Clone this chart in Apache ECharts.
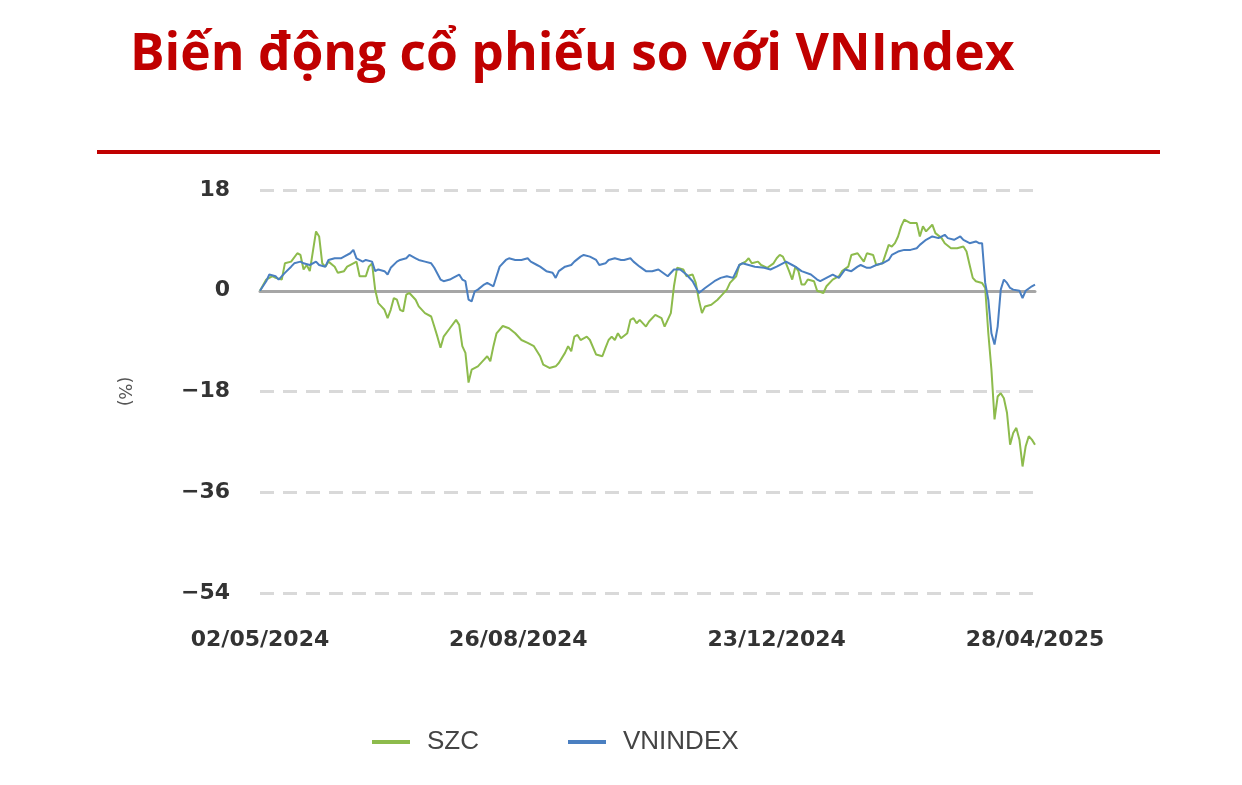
<!DOCTYPE html>
<html>
<head>
<meta charset="utf-8">
<script src="https://cdn.jsdelivr.net/npm/echarts@6/dist/echarts.min.js"></script>
<style>
html,body{margin:0;padding:0;background:#fff;}
#chart{width:1242px;height:785px;}
</style>
</head>
<body>
<div id="chart"></div>
<script>
// x tick labels (trading-day index 0, 83, 166, 249)
var xLabels = ['02/05/2024', '26/08/2024', '23/12/2024', '28/04/2025'];
var seriesNames = ['SZC', 'VNINDEX'];

// [trading-day index, % change]
var szcPoints = [[0,0],[2,2.0],[4,2.6],[5,2.3],[7,2.0],[8,4.9],[10,5.2],[12,6.7],[13,6.4],[14,3.8],[15,4.6],[16,3.5],[18,10.6],[19,9.7],[20,4.9],[21,4.3],[22,5.2],[24,4.3],[25,3.2],[27,3.5],[28,4.3],[30,4.9],[31,5.2],[32,2.6],[34,2.6],[35,4.3],[36,4.9],[37,0.2],[38,-2.2],[39,-2.8],[40,-3.4],[41,-4.9],[42,-3.4],[43,-1.3],[44,-1.6],[45,-3.4],[46,-3.7],[47,-0.7],[48,-0.4],[50,-1.6],[51,-2.8],[53,-4.0],[55,-4.6],[56,-6.4],[57,-8.2],[58,-10.2],[59,-8.2],[61,-6.7],[63,-5.2],[64,-6.1],[65,-9.9],[66,-11.1],[67,-16.4],[68,-14.1],[70,-13.5],[72,-12.3],[73,-11.7],[74,-12.6],[75,-9.9],[76,-7.6],[78,-6.3],[80,-6.7],[82,-7.6],[84,-8.8],[86,-9.3],[88,-9.9],[90,-11.7],[91,-13.2],[93,-13.8],[95,-13.5],[96,-12.9],[98,-11.1],[99,-9.9],[100,-10.8],[101,-8.2],[102,-7.9],[103,-8.8],[105,-8.2],[106,-8.8],[108,-11.4],[110,-11.7],[111,-10.2],[112,-8.8],[113,-8.2],[114,-8.8],[115,-7.6],[116,-8.5],[118,-7.6],[119,-5.2],[120,-4.9],[121,-5.8],[122,-5.2],[124,-6.4],[125,-5.5],[127,-4.3],[129,-4.9],[130,-6.4],[132,-4.0],[133,0.8],[134,4.1],[136,3.8],[137,2.6],[139,2.9],[140,1.4],[141,-1.6],[142,-4.0],[143,-2.8],[145,-2.5],[147,-1.6],[148,-1.0],[150,0.2],[151,1.4],[153,2.6],[154,4.6],[156,5.2],[157,5.8],[158,4.9],[160,5.2],[161,4.6],[163,4.1],[165,4.9],[166,5.8],[167,6.4],[168,6.1],[169,4.9],[170,3.5],[171,2.0],[172,4.3],[173,3.5],[174,1.1],[175,1.1],[176,2.0],[178,1.7],[179,0],[181,-0.4],[182,0.8],[184,2.0],[186,2.6],[187,3.5],[189,4.3],[190,6.4],[192,6.7],[194,5.2],[195,6.7],[197,6.4],[198,4.6],[200,4.9],[202,8.2],[203,7.9],[204,8.5],[205,9.7],[206,11.5],[207,12.7],[209,12.1],[211,12.1],[212,9.7],[213,11.5],[214,10.6],[216,11.8],[217,10.3],[219,9.4],[220,8.5],[222,7.6],[224,7.6],[226,7.9],[227,7.0],[228,4.6],[229,2.3],[230,1.7],[232,1.4],[233,0.5],[234,-7.6],[235,-14.1],[236,-23.0],[237,-18.9],[238,-18.3],[239,-19.2],[240,-21.8],[241,-27.5],[242,-25.4],[243,-24.5],[244,-26.6],[245,-31.4],[246,-27.8],[247,-26.0],[248,-26.6],[249,-27.5]];

var vnindexPoints = [[0,0],[2,1.7],[3,2.9],[5,2.6],[6,2.0],[8,3.2],[10,4.3],[11,4.9],[13,5.2],[14,4.9],[16,4.6],[18,5.2],[19,4.6],[21,4.3],[22,5.5],[24,5.8],[26,5.8],[27,6.1],[29,6.7],[30,7.3],[31,5.8],[33,5.2],[34,5.5],[36,5.2],[37,3.5],[38,3.8],[40,3.5],[41,2.9],[42,4.1],[44,5.2],[45,5.5],[47,5.8],[48,6.4],[50,5.8],[51,5.5],[53,5.2],[55,4.9],[56,4.1],[58,2.0],[59,1.7],[61,2.0],[62,2.3],[64,2.9],[65,2.0],[66,1.7],[67,-1.6],[68,-1.9],[69,-0.1],[70,0.2],[72,1.1],[73,1.4],[75,0.8],[76,2.6],[77,4.3],[79,5.5],[80,5.8],[82,5.5],[84,5.5],[86,5.8],[87,5.2],[89,4.6],[90,4.3],[92,3.5],[94,3.2],[95,2.3],[96,3.5],[98,4.3],[100,4.6],[101,5.2],[103,6.1],[104,6.4],[106,6.1],[108,5.5],[109,4.6],[111,4.9],[112,5.5],[114,5.8],[116,5.5],[117,5.5],[119,5.8],[120,5.2],[122,4.3],[124,3.5],[126,3.5],[128,3.8],[131,2.6],[133,3.8],[135,3.8],[137,2.9],[139,1.7],[141,-0.4],[143,0.5],[146,1.7],[148,2.3],[150,2.6],[152,2.3],[154,4.6],[155,4.9],[157,4.6],[159,4.3],[162,4.1],[164,3.8],[166,4.3],[168,4.9],[169,5.2],[171,4.6],[172,4.3],[174,3.5],[177,2.9],[179,2.0],[180,1.7],[182,2.3],[184,2.9],[186,2.3],[188,3.8],[190,3.5],[192,4.3],[193,4.6],[195,4.1],[196,4.1],[198,4.6],[200,4.9],[202,5.5],[203,6.4],[205,7.0],[207,7.3],[209,7.3],[211,7.6],[212,8.2],[214,9.1],[216,9.7],[218,9.4],[220,10.0],[221,9.4],[223,9.1],[225,9.7],[226,9.1],[228,8.5],[230,8.8],[231,8.5],[232,8.5],[233,1.4],[234,-1.6],[235,-7.6],[236,-9.6],[237,-6.4],[238,0.2],[239,2.0],[240,1.4],[241,0.5],[242,0.2],[244,0],[245,-1.3],[246,0],[248,0.8],[249,1.1]];

var chart = echarts.init(document.getElementById('chart'), null, {renderer: 'canvas'});
var labelStep = 83;
chart.setOption({
  animation: false,
  backgroundColor: '#ffffff',
  title: {
    text: 'Biến động cổ phiếu so với VNIndex',
    left: 125,
    top: 24,
    textStyle: {fontFamily: 'Open Sans', fontWeight: 'bold', fontSize: 51.5, color: '#C00000'}
  },
  graphic: [{
    type: 'line',
    shape: {x1: 97, y1: 152, x2: 1160, y2: 152},
    style: {stroke: '#C00000', lineWidth: 4}
  }],
  legend: {
    data: seriesNames,
    left: 367,
    top: 724,
    icon: 'rect',
    itemWidth: 38,
    itemHeight: 4,
    itemGap: 89,
    textStyle: {fontFamily: 'Liberation Sans', fontSize: 26, color: '#444', padding: [0, 0, 0, 12]}
  },
  grid: {left: 260, right: 207, top: 190, bottom: 192},
  xAxis: [{
    type: 'value',
    min: 0,
    max: 249,
    interval: labelStep,
    axisLine: {show: false, onZero: false},
    axisTick: {show: false},
    splitLine: {show: false},
    axisLabel: {
      margin: 36,
      fontFamily: 'DejaVu Sans',
      fontWeight: 'bold',
      fontSize: 22,
      color: '#333',
      formatter: function (v) { return xLabels[Math.round(v / labelStep)] || ''; }
    }
  }, {
    type: 'value',
    min: 0,
    max: 249,
    position: 'top',
    axisLine: {show: true, onZero: true, lineStyle: {color: '#a6a6a6', width: 3}},
    axisTick: {show: false},
    axisLabel: {show: false},
    splitLine: {show: false}
  }],
  yAxis: {
    type: 'value',
    min: -54,
    max: 18,
    interval: 18,
    name: '(%)',
    nameLocation: 'middle',
    nameRotate: -90,
    nameGap: 128,
    nameTextStyle: {fontFamily: 'DejaVu Sans', fontSize: 17, color: '#555'},
    axisLine: {show: false},
    axisTick: {show: false},
    axisLabel: {
      margin: 30, fontFamily: 'DejaVu Sans', fontWeight: 'bold', fontSize: 22, color: '#333',
      formatter: function (v) { return String(v).replace('-', '\u2212'); }
    },
    splitLine: {show: true, lineStyle: {color: '#d9d9d9', width: 3, type: [14, 9]}}
  },
  series: [{
    name: 'SZC',
    type: 'line',
    data: szcPoints,
    showSymbol: false,
    symbol: 'none',
    lineStyle: {color: '#8DBB4C', width: 2},
    itemStyle: {color: '#8DBB4C'}
  }, {
    name: 'VNINDEX',
    type: 'line',
    data: vnindexPoints,
    showSymbol: false,
    symbol: 'none',
    lineStyle: {color: '#4A7FC1', width: 2},
    itemStyle: {color: '#4A7FC1'}
  }]
});
</script>
</body>
</html>
